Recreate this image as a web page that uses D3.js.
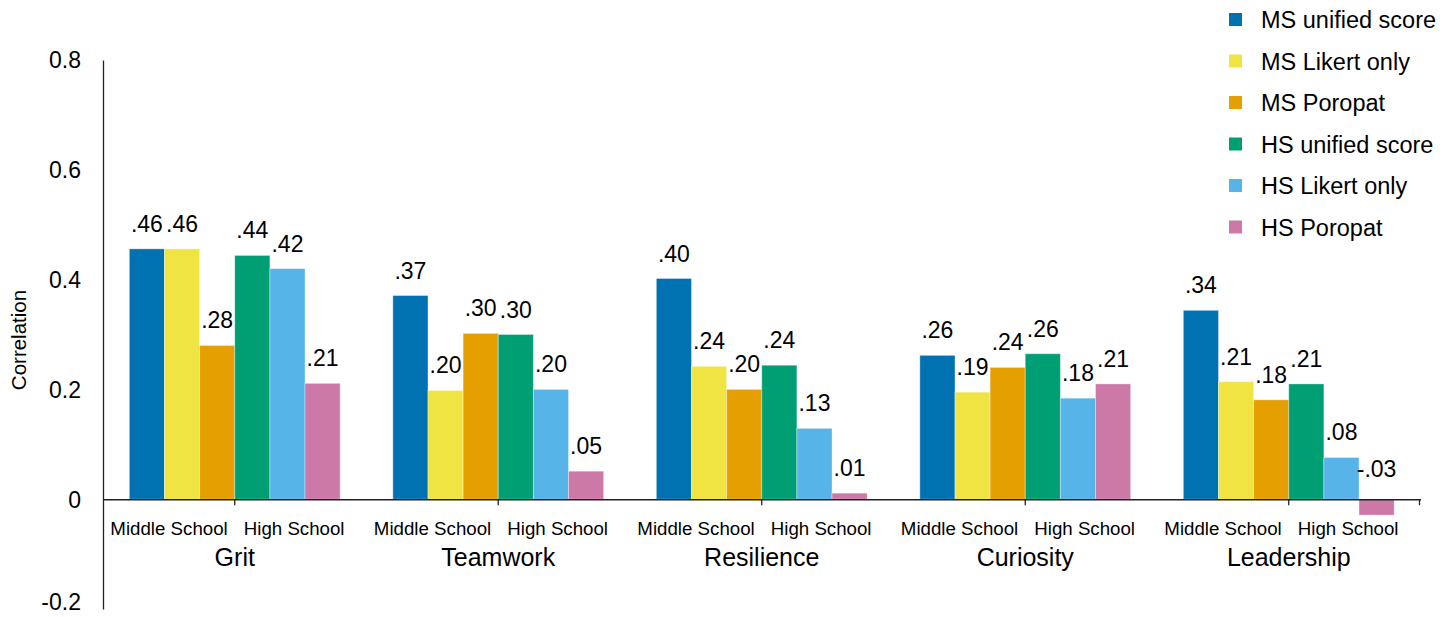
<!DOCTYPE html>
<html>
<head>
<meta charset="utf-8">
<script src="https://cdn.jsdelivr.net/npm/d3@7"></script>
<style>
  html, body { margin: 0; padding: 0; background: #fff; }
  svg { display: block; font-family: "Liberation Sans", Arial, Helvetica, sans-serif; }
</style>
</head>
<body>
<svg id="chart" width="1455" height="617"></svg>
<script>
const categories = ["Grit", "Teamwork", "Resilience", "Curiosity", "Leadership"];
const subLabels = ["Middle School", "High School"];
const seriesNames = ["MS unified score", "MS Likert only", "MS Poropat", "HS unified score", "HS Likert only", "HS Poropat"];
const seriesColors = ["#0072B2", "#F0E442", "#E69F00", "#009E73", "#56B4E9", "#CC79A7"];
// values per series, one per category
const msUnified = [0.456, 0.371, 0.402, 0.262, 0.344];
const msLikert  = [0.456, 0.198, 0.242, 0.195, 0.214];
const msPoropat = [0.280, 0.302, 0.200, 0.240, 0.181];
const hsUnified = [0.444, 0.300, 0.244, 0.265, 0.210];
const hsLikert  = [0.420, 0.200, 0.129, 0.184, 0.076];
const hsPoropat = [0.211, 0.051, 0.011, 0.210, -0.029];
const seriesValues = [msUnified, msLikert, msPoropat, hsUnified, hsLikert, hsPoropat];
// printed labels
const labelsText = [
  [".46", ".37", ".40", ".26", ".34"],
  [".46", ".20", ".24", ".19", ".21"],
  [".28", ".30", ".20", ".24", ".18"],
  [".44", ".30", ".24", ".26", ".21"],
  [".42", ".20", ".13", ".18", ".08"],
  [".21", ".05", ".01", ".21", "-.03"]
];
const yTicks = [0.8, 0.6, 0.4, 0.2, 0, -0.2];
const yTickLabels = ["0.8", "0.6", "0.4", "0.2", "0", "-0.2"];

const svg = d3.select("#chart");
const plotLeft = 103, plotRight = 1420.5, plotTop = 60, plotBottom = 609;

const y = d3.scaleLinear().domain([-0.2, 0.8]).range([plotBottom, plotTop]);
const x0 = d3.scaleBand().domain(categories).range([plotLeft, plotRight]).paddingInner(0.2).paddingOuter(0.1);
const x1 = d3.scaleBand().domain(seriesNames).range([0, x0.bandwidth()]).padding(0);

// y axis
const yAxis = d3.axisLeft(y).tickValues(yTicks).tickSize(0).tickPadding(22)
  .tickFormat((d, i) => yTickLabels[i]);
const gy = svg.append("g").attr("transform", `translate(${plotLeft},0)`).call(yAxis);
gy.select(".domain").attr("stroke", "#222").attr("stroke-width", 1.3);
gy.selectAll("text").attr("font-size", 23).attr("fill", "#000")
  .attr("font-family", "Liberation Sans, Arial, sans-serif")
  .attr("dy", d => d < 0 ? "0.02em" : "0.34em");

svg.append("text")
  .attr("transform", `translate(26,340) rotate(-90)`)
  .attr("text-anchor", "middle")
  .attr("font-size", 20.5)
  .attr("fill", "#000")
  .text("Correlation");

// bars
const groups = svg.append("g").selectAll("g")
  .data(categories)
  .join("g")
  .attr("transform", d => `translate(${x0(d)},0)`);

groups.each(function(cat, ci) {
  const g = d3.select(this);
  seriesNames.forEach((s, si) => {
    const v = seriesValues[si][ci];
    g.append("rect")
      .attr("x", x1(s))
      .attr("y", y(Math.max(v, 0)))
      .attr("width", x1.bandwidth())
      .attr("height", Math.abs(y(v) - y(0)))
      .attr("fill", seriesColors[si])
      .attr("stroke", "rgba(255,255,255,0.35)")
      .attr("stroke-width", 1);
    g.append("text")
      .attr("x", x1(s) + x1.bandwidth() / 2)
      .attr("y", y(Math.max(v, 0)) - (v < 0 ? 22 : 17))
      .attr("text-anchor", "middle")
      .attr("font-size", 23)
      .attr("fill", "#000")
      .text(labelsText[si][ci]);
  });
});

// zero line (x axis)
const xAxis = d3.axisBottom(x0).tickSize(0).tickFormat("");
const gx = svg.append("g").attr("transform", `translate(0,${y(0)})`).call(xAxis);
gx.select(".domain").attr("stroke", "#222").attr("stroke-width", 1.5);
const tickXs = categories.map(c => x0(c) + x0.bandwidth() / 2).concat([plotRight - 1]);
gx.selectAll("line.tk").data(tickXs).join("line")
  .attr("class", "tk")
  .attr("x1", d => d).attr("x2", d => d)
  .attr("y1", 0).attr("y2", 6)
  .attr("stroke", "#222").attr("stroke-width", 1.3);

// sub labels and category labels
categories.forEach(c => {
  const cx = x0(c) + x0.bandwidth() / 2;
  svg.append("text").attr("x", cx - 7).attr("y", y(0) + 36)
    .attr("text-anchor", "end").attr("font-size", 18.7).attr("fill", "#000").text(subLabels[0]);
  svg.append("text").attr("x", cx + 9).attr("y", y(0) + 36)
    .attr("text-anchor", "start").attr("font-size", 18.7).attr("fill", "#000").text(subLabels[1]);
  svg.append("text").attr("x", cx).attr("y", y(0) + 67)
    .attr("text-anchor", "middle").attr("font-size", 25).attr("fill", "#000").text(c);
});

// legend
const legend = svg.append("g").attr("transform", "translate(1229,0)");
seriesNames.forEach((s, i) => {
  const baseY = 28 + i * 41.5;
  legend.append("rect").attr("x", 0).attr("y", baseY - 15).attr("width", 13).attr("height", 13)
    .attr("fill", seriesColors[i]);
  legend.append("text").attr("x", 32).attr("y", baseY)
    .attr("font-size", 23.5).attr("fill", "#000").text(s);
});
</script>
</body>
</html>
